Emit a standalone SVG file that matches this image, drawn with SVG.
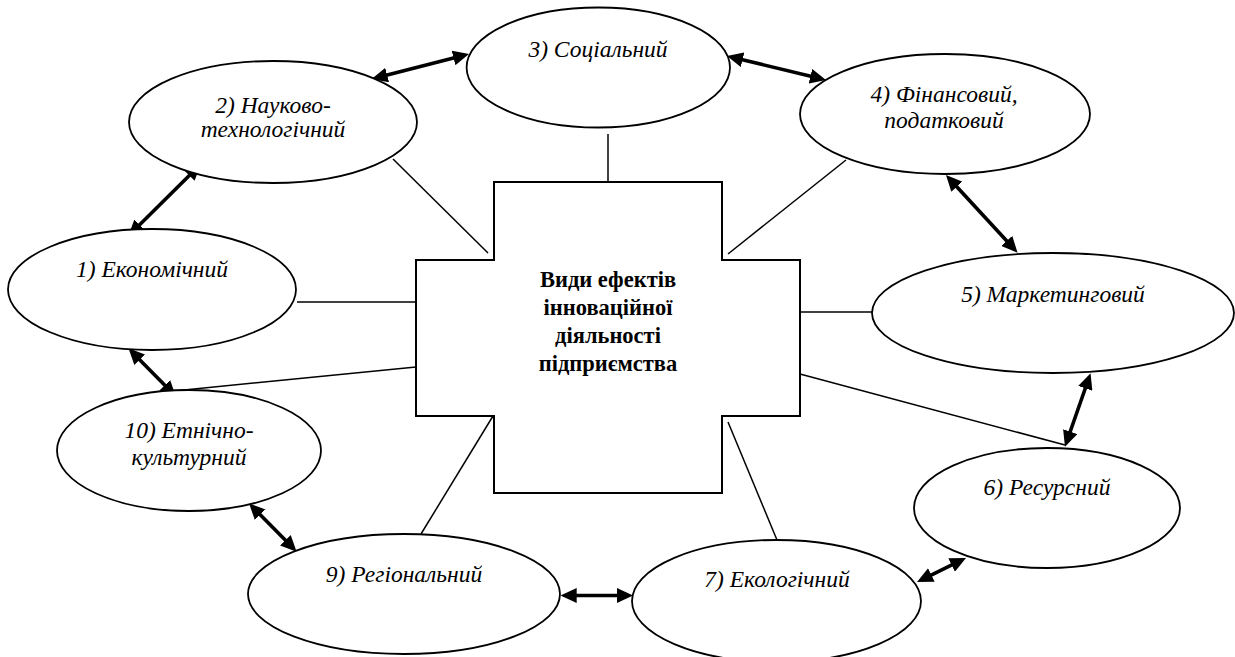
<svg xmlns="http://www.w3.org/2000/svg" width="1235" height="657" viewBox="0 0 1235 657">
<style>
.node ellipse{fill:#fff;stroke:#000;stroke-width:1.8}
.lbl{font-family:"Liberation Serif","Times New Roman",serif;font-style:italic;font-size:23.5px;text-anchor:middle;fill:#000}
.ctr{font-family:"Liberation Serif","Times New Roman",serif;font-weight:bold;font-size:22.5px;text-anchor:middle;fill:#000}
.thin{stroke:#000;stroke-width:1.5;fill:none}
.arr{stroke:#000;stroke-width:3.6;fill:none;marker-start:url(#ah);marker-end:url(#ah)}
</style>
<defs>
<marker id="ah" viewBox="0 0 16 15" markerWidth="16" markerHeight="15" refX="11" refY="7.5" orient="auto-start-reverse" markerUnits="userSpaceOnUse">
<path d="M0,0 L16,7.5 L0,15 z" fill="#000"/>
</marker>
</defs>
<rect width="1235" height="657" fill="#fff"/>
<g id="connectors">
<line class="thin" x1="393" y1="159" x2="488" y2="253"/>
<line class="thin" x1="608" y1="134" x2="608" y2="182"/>
<line class="thin" x1="846" y1="160" x2="728" y2="254"/>
<line class="thin" x1="297" y1="302" x2="416" y2="302"/>
<line class="thin" x1="800" y1="312" x2="872" y2="312"/>
<line class="thin" x1="416" y1="367" x2="174" y2="391"/>
<line class="thin" x1="493" y1="416" x2="421" y2="534"/>
<line class="thin" x1="728" y1="422" x2="777" y2="540"/>
<line class="thin" x1="800" y1="374" x2="1065" y2="445"/>
<line class="arr" x1="131.85" y1="232.5" x2="197.15" y2="167.8"/>
<line class="arr" x1="376.5" y1="77.8" x2="464.2" y2="55.2"/>
<line class="arr" x1="731.9" y1="57.2" x2="821.1" y2="78.8"/>
<line class="arr" x1="949.4" y1="178.7" x2="1014.2" y2="249"/>
<line class="arr" x1="1088.9" y1="378" x2="1066.6" y2="442"/>
<line class="arr" x1="961.5" y1="560.2" x2="921.5" y2="579.8"/>
<line class="arr" x1="628" y1="595.5" x2="565.7" y2="595.5"/>
<line class="arr" x1="293.1" y1="548.1" x2="252.5" y2="506.9"/>
<line class="arr" x1="172.5" y1="393.1" x2="132" y2="351.9"/>
</g>
<g id="center">
<polygon points="494,182 722,182 722,260 800,260 800,416 722,416 722,493 494,493 494,416 416,416 416,260 494,260" fill="#fff" stroke="#000" stroke-width="2"/>
<text class="ctr" x="608" y="287">Види ефектів</text>
<text class="ctr" x="608" y="315">інноваційної</text>
<text class="ctr" x="608" y="343">діяльності</text>
<text class="ctr" x="608" y="371">підприємства</text>
</g>
<g id="n1" class="node"><ellipse cx="152" cy="289.5" rx="144" ry="60.5"/><text class="lbl" x="152" y="277">1) Економічний</text></g>
<g id="n2" class="node"><ellipse cx="273" cy="122" rx="144" ry="61"/><text class="lbl" x="273" y="113">2) Науково-</text><text class="lbl" x="273" y="137">технологічний</text></g>
<g id="n3" class="node"><ellipse cx="598.3" cy="67.5" rx="131.7" ry="60"/><text class="lbl" x="598" y="57">3) Соціальний</text></g>
<g id="n4" class="node"><ellipse cx="945" cy="114" rx="145" ry="60"/><text class="lbl" x="944" y="102">4) Фінансовий,</text><text class="lbl" x="944" y="128">податковий</text></g>
<g id="n5" class="node"><ellipse cx="1053" cy="313" rx="181" ry="60"/><text class="lbl" x="1053" y="302">5) Маркетинговий</text></g>
<g id="n6" class="node"><ellipse cx="1047" cy="508" rx="133" ry="60"/><text class="lbl" x="1047" y="495">6) Ресурсний</text></g>
<g id="n7" class="node"><ellipse cx="776.5" cy="601" rx="144.5" ry="61"/><text class="lbl" x="777" y="587">7) Екологічний</text></g>
<g id="n9" class="node"><ellipse cx="404" cy="594" rx="156" ry="60"/><text class="lbl" x="404" y="582">9) Регіональний</text></g>
<g id="n10" class="node"><ellipse cx="189" cy="450.5" rx="132" ry="60.5"/><text class="lbl" x="189" y="438">10) Етнічно-</text><text class="lbl" x="189" y="465">культурний</text></g>
</svg>
